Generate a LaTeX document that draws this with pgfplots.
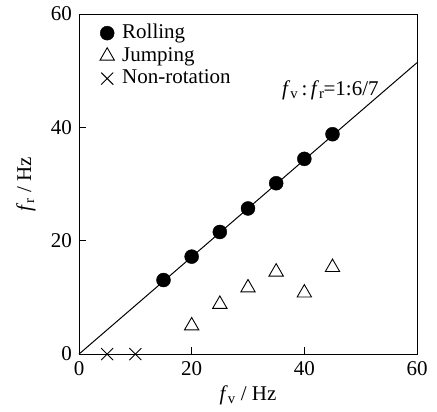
\documentclass[border=0pt]{standalone}
\usepackage{fontspec}
\setmainfont{Liberation Serif}
\usepackage{pgfplots}
\pgfplotsset{compat=1.18}
\newcommand{\bigf}{\fontsize{21}{24}\selectfont}
\pgfplotsset{myleg/.style={legend image code/.code={\path[draw=none,fill=none] (0pt,-1pt) rectangle (24pt,1pt);\draw[##1,only marks] plot coordinates {(11pt,0pt)};}}}
\begin{document}
\bigf
\begin{tikzpicture}[font=\bigf]
\begin{axis}[
  scale only axis, width=338pt, height=340pt,
  xmin=0, xmax=60, ymin=0, ymax=60,
  xtick={0,20,40,60}, ytick={0,20,40,60},
  xtick pos=left, ytick pos=left,
  tick align=inside, major tick length=7pt,
  axis line style={line width=1pt}, tick style={line width=1pt, black},
  /pgf/number format/assume math mode=true,
  tick label style={font=\bigf},
  label style={font=\bigf},
  xlabel={\textit{f}\textsubscript{v} / Hz},
  ylabel={\textit{f}\textsubscript{r} / Hz},
  xlabel style={yshift=4pt},
  ylabel style={yshift=1pt},
  clip=false,
  legend style={draw=none, fill=none, at={(0,1)}, anchor=north west, xshift=14pt, yshift=-6pt, row sep=1.5pt, font=\bigf},
  legend cell align=left,
]
\addplot[only marks, myleg, mark=*, mark size=7pt, black] coordinates {
(15,13.07) (20,17.2) (25,21.55) (30,25.7) (35,30.15) (40,34.45) (45,38.8)};
\addlegendentry{Rolling}
\addplot[only marks, myleg, mark=triangle, mark size=8.3pt, black, mark options={line width=0.9pt}] coordinates {
(20,5.0) (25,8.8) (30,11.7) (35,14.5) (40,10.8) (45,15.3)};
\addlegendentry{Jumping}
\addplot[only marks, myleg, mark=x, mark size=8.5pt, black, mark options={line width=0.9pt}] coordinates {
(5,0) (10,0)};
\addlegendentry{Non-rotation}
\addplot[black, line width=1pt, forget plot] coordinates {(0,0) (60,51.4286)};
\node[anchor=west, inner sep=0pt] at (axis cs:36,46.6) {\textit{f}\textsubscript{v}\,:\,\textit{f}\textsubscript{r}\kern-1pt=1:6/7};
\coordinate (O) at (rel axis cs:0,0);
\coordinate (T) at (rel axis cs:1,1);
\end{axis}
\path ([shift={(-79pt,-57pt)}]O) rectangle ([shift={(20pt,11pt)}]T);
\end{tikzpicture}
\end{document}
